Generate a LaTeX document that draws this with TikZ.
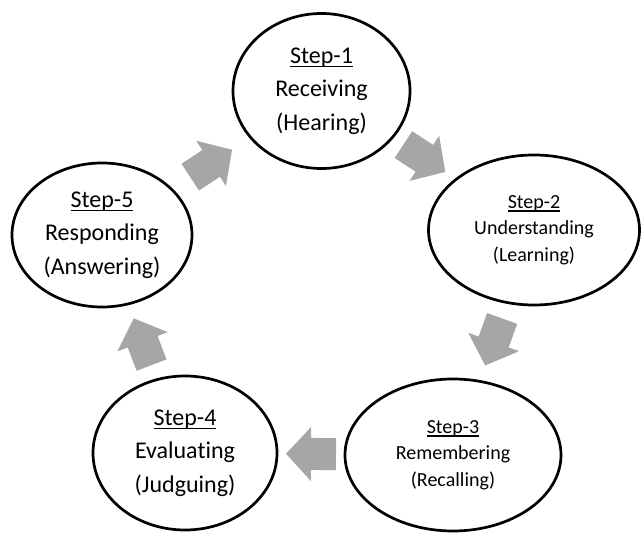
\documentclass[tikz,border=0pt]{standalone}
\usepackage{fontspec}
\setmainfont{Carlito}[Ligatures=NoCommon]
\usetikzlibrary{shapes.geometric}
\definecolor{arrowgray}{RGB}{166,166,166}
\newcommand\ulstep[1]{\setbox0\hbox{#1}\rlap{\rule[-0.17em]{\wd0}{0.06em}}\box0}
\tikzset{
  stepnode/.style={draw, line width=2.7pt, ellipse, inner sep=0pt, align=center, text=black},
  bigtext/.style={font=\fontsize{24}{33.5}\selectfont},
  smalltext/.style={font=\fontsize{20}{26.5}\selectfont},
  blockarrow/.pic={\fill[arrowgray] (-25,-16) -- (0,-16) -- (0,-27) -- (25,0) -- (0,27) -- (0,16) -- (-25,16) -- cycle;}
}
\begin{document}
\begin{tikzpicture}[x=1pt,y=1pt]
\useasboundingbox (0,0) rectangle (641,533);
\node[stepnode, bigtext, minimum width=177pt, minimum height=155pt] (s1) at (321.5,442) {\ulstep{Step-1}\\Receiving\\(Hearing)};
\node[stepnode, smalltext, minimum width=211pt, minimum height=150pt] (s2) at (534,303) {\ulstep{Step-2}\\Understanding\\(Learning)};
\node[stepnode, smalltext, minimum width=216pt, minimum height=152pt] (s3) at (453,78) {\ulstep{Step-3}\\Remembering\\(Recalling)};
\node[stepnode, bigtext, minimum width=184pt, minimum height=154pt] (s4) at (185,80) {\ulstep{Step-4}\\Evaluating\\(Judguing)};
\node[stepnode, bigtext, minimum width=180pt, minimum height=144pt] (s5) at (102,298) {\ulstep{Step-5}\\Responding\\(Answering)};
\path (s1) -- (s2) pic[midway, sloped, allow upside down] (a12) {blockarrow};
\path (s2) -- (s3) pic[midway, sloped, allow upside down] (a23) {blockarrow};
\path (s3) -- (s4) pic[midway, sloped, allow upside down] (a34) {blockarrow};
\path (s4) -- (s5) pic[midway, sloped, allow upside down] (a45) {blockarrow};
\path (s5) -- (s1) pic[midway, sloped, allow upside down] (a51) {blockarrow};
\end{tikzpicture}
\end{document}
